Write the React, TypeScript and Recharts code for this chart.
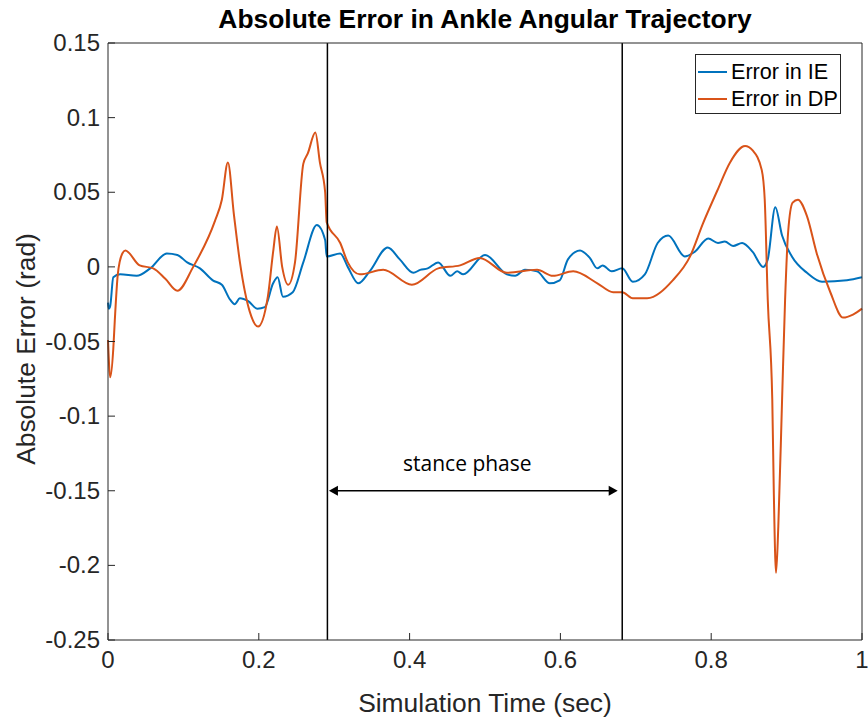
import React from "react"
import { LineChart, Line, XAxis, YAxis, ReferenceLine, Legend } from "recharts"

// time samples (sec) and error values (rad)
const ieTime = [0, 0.001, 0.003, 0.007, 0.016, 0.038, 0.056, 0.078, 0.092, 0.105, 0.122, 0.139, 0.151, 0.162, 0.168, 0.175, 0.186, 0.198, 0.208, 0.219, 0.225, 0.232, 0.245, 0.259, 0.277, 0.288, 0.29, 0.308, 0.318, 0.332, 0.347, 0.371, 0.387, 0.405, 0.414, 0.424, 0.438, 0.454, 0.463, 0.471, 0.5, 0.529, 0.54, 0.553, 0.569, 0.586, 0.599, 0.61, 0.626, 0.639, 0.649, 0.656, 0.668, 0.682, 0.696, 0.712, 0.729, 0.743, 0.765, 0.778, 0.796, 0.809, 0.818, 0.829, 0.841, 0.855, 0.869, 0.875, 0.885, 0.894, 0.907, 0.927, 0.947, 0.98, 1]
const ieError = [-0.024, -0.028, -0.026, -0.007, -0.005, -0.006, -0.001, 0.009, 0.008, 0.003, -0.001, -0.009, -0.012, -0.022, -0.025, -0.021, -0.023, -0.028, -0.027, -0.011, -0.007, -0.02, -0.017, 0.003, 0.028, 0.018, 0.007, 0.009, 0.0, -0.011, -0.003, 0.013, 0.005, -0.004, -0.002, -0.001, 0.003, -0.006, -0.003, -0.005, 0.008, -0.005, -0.006, -0.002, -0.003, -0.011, -0.009, 0.005, 0.011, 0.006, -0.001, 0.001, -0.003, -0.001, -0.01, -0.005, 0.016, 0.021, 0.007, 0.01, 0.019, 0.016, 0.017, 0.014, 0.016, 0.01, 0.0, 0.005, 0.04, 0.021, 0.007, -0.004, -0.01, -0.009, -0.007]

const dpTime = [0, 0.003, 0.007, 0.009, 0.013, 0.019, 0.023, 0.042, 0.06, 0.076, 0.092, 0.113, 0.142, 0.151, 0.159, 0.167, 0.175, 0.188, 0.199, 0.212, 0.219, 0.224, 0.231, 0.239, 0.248, 0.259, 0.265, 0.275, 0.281, 0.288, 0.29, 0.308, 0.318, 0.334, 0.365, 0.403, 0.438, 0.467, 0.493, 0.529, 0.569, 0.59, 0.617, 0.649, 0.67, 0.682, 0.696, 0.715, 0.749, 0.772, 0.789, 0.808, 0.825, 0.845, 0.855, 0.867, 0.871, 0.875, 0.881, 0.883, 0.886, 0.889, 0.894, 0.898, 0.902, 0.908, 0.915, 0.927, 0.94, 0.958, 0.975, 0.988, 1]
const dpError = [-0.049, -0.074, -0.055, -0.036, -0.005, 0.009, 0.011, 0.001, -0.001, -0.008, -0.016, 0.0, 0.031, 0.045, 0.07, 0.035, 0.003, -0.03, -0.04, -0.02, 0.01, 0.027, 0.0, -0.012, 0.003, 0.069, 0.076, 0.09, 0.07, 0.05, 0.03, 0.016, 0.003, -0.005, -0.002, -0.012, -0.001, 0.001, 0.006, -0.004, -0.002, -0.006, -0.003, -0.011, -0.017, -0.017, -0.021, -0.021, -0.009, 0.007, 0.029, 0.051, 0.07, 0.081, 0.078, 0.065, 0.045, -0.022, -0.089, -0.15, -0.205, -0.174, -0.089, -0.022, 0.023, 0.043, 0.045, 0.034, 0.009, -0.017, -0.034, -0.032, -0.028]

const seriesNames = ["Error in IE", "Error in DP"]
const xTicks = [0, 0.2, 0.4, 0.6, 0.8, 1]
const yTicks = [0.15, 0.1, 0.05, 0, -0.05, -0.1, -0.15, -0.2, -0.25]
const stanceStart = 0.291
const stanceEnd = 0.682

const ieData = ieTime.map((t, i) => ({ t, v: ieError[i] }))
const dpData = dpTime.map((t, i) => ({ t, v: dpError[i] }))

const FONT = "'Liberation Sans', Arial, sans-serif"
const AX = "#262626"

const BottomTick = ({ x, y, payload }: any) => (
  <g>
    <line x1={x} x2={x} y1={y} y2={y - 7} stroke={AX} />
    <text x={x} y={y + 28} textAnchor="middle" fontSize={24} fontFamily={FONT} fill={AX}>
      {String(payload.value)}
    </text>
  </g>
)
const TopTick = ({ x, y }: any) => <line x1={x} x2={x} y1={y} y2={y + 7} stroke={AX} />
const LeftTick = ({ x, y, payload }: any) => (
  <g>
    <line x1={x} x2={x + 7} y1={y} y2={y} stroke={AX} />
    <text x={x - 8} y={y + 8} textAnchor="end" fontSize={24} fontFamily={FONT} fill={AX}>
      {String(payload.value)}
    </text>
  </g>
)
const RightTick = ({ x, y }: any) => <line x1={x} x2={x - 7} y1={y} y2={y} stroke={AX} />

const StanceArrow = (p: any) => {
  const { x1, y1, x2 } = p
  const mid = (x1 + x2) / 2 - 6
  return (
    <g>
      <line x1={x1 + 6} x2={x2 - 6} y1={y1} y2={y1} stroke="#000" strokeWidth={1.5} />
      <polygon points={`${x1},${y1} ${x1 + 9},${y1 - 5} ${x1 + 9},${y1 + 5}`} fill="#000" />
      <polygon points={`${x2},${y1} ${x2 - 9},${y1 - 5} ${x2 - 9},${y1 + 5}`} fill="#000" />
      <text x={mid} y={y1 - 20} textAnchor="middle" fontSize={21} fontFamily="'Open Sans', sans-serif" fill="#000">
        stance phase
      </text>
    </g>
  )
}

const LegendBox = ({ payload }: any) => {
  const items = [...(payload || [])].sort((a: any, b: any) => seriesNames.indexOf(a.value) - seriesNames.indexOf(b.value))
  return (
    <div style={{ border: "1px solid #262626", background: "#fff", width: 146, height: 60, boxSizing: "border-box", padding: "3px 0 0 2px", fontFamily: FONT, fontSize: 21.6, color: "#000" }}>
      {items.map((e: any) => (
        <div key={e.value} style={{ display: "flex", alignItems: "center", height: 27 }}>
          <span style={{ display: "inline-block", width: 29, height: 2, background: e.color, marginRight: 4 }} />
          <span>{e.value}</span>
        </div>
      ))}
    </div>
  )
}

export default function App() {
  return (
    <div style={{ position: "absolute", left: 0, top: 0, width: 868, height: 722, background: "#fff" }}>
      <LineChart width={868} height={722} margin={{ top: 42, right: 5, bottom: 52, left: 48 }}>
        <XAxis xAxisId="top" orientation="top" type="number" domain={[0, 1]} ticks={xTicks} height={1} tickSize={0} tickMargin={0} tick={<TopTick />} stroke={AX} />
        <XAxis type="number" dataKey="t" domain={[0, 1]} ticks={xTicks} height={30} tickSize={0} tickMargin={0} tick={<BottomTick />} stroke={AX} allowDuplicatedCategory={false} />
        <YAxis type="number" domain={[-0.25, 0.15]} ticks={yTicks} width={60} tickSize={0} tickMargin={0} tick={<LeftTick />} stroke={AX} allowDataOverflow />
        <YAxis yAxisId="r" orientation="right" type="number" domain={[-0.25, 0.15]} ticks={yTicks} width={1} tickSize={0} tickMargin={0} tick={<RightTick />} stroke={AX} />
        <Line data={ieData} dataKey="v" name={seriesNames[0]} type="monotone" stroke="#0072BD" strokeWidth={2} dot={false} isAnimationActive={false} />
        <Line data={dpData} dataKey="v" name={seriesNames[1]} type="monotone" stroke="#D95319" strokeWidth={2} dot={false} isAnimationActive={false} />
        <ReferenceLine x={stanceStart} stroke="#000" strokeWidth={1.5} />
        <ReferenceLine x={stanceEnd} stroke="#000" strokeWidth={1.5} />
        <ReferenceLine segment={[{ x: 0.293, y: -0.15 }, { x: 0.676, y: -0.15 }]} shape={StanceArrow} />
        <Legend layout="vertical" align="center" verticalAlign="middle" content={<LegendBox />} wrapperStyle={{ top: 54, left: 695, width: 146, height: 60 }} />
      </LineChart>
      <svg width={868} height={722} style={{ position: "absolute", left: 0, top: 0, pointerEvents: "none" }}>
        <text x={485} y={28} textAnchor="middle" fontSize={26.4} fontWeight="bold" fontFamily={FONT} fill="#000">
          Absolute Error in Ankle Angular Trajectory
        </text>
        <text x={485} y={712} textAnchor="middle" fontSize={26.4} fontFamily={FONT} fill={AX}>
          Simulation Time (sec)
        </text>
        <text x={35} y={349} textAnchor="middle" fontSize={26.4} fontFamily={FONT} fill={AX} transform="rotate(-90 35 349)">
          Absolute Error (rad)
        </text>
      </svg>
    </div>
  )
}
